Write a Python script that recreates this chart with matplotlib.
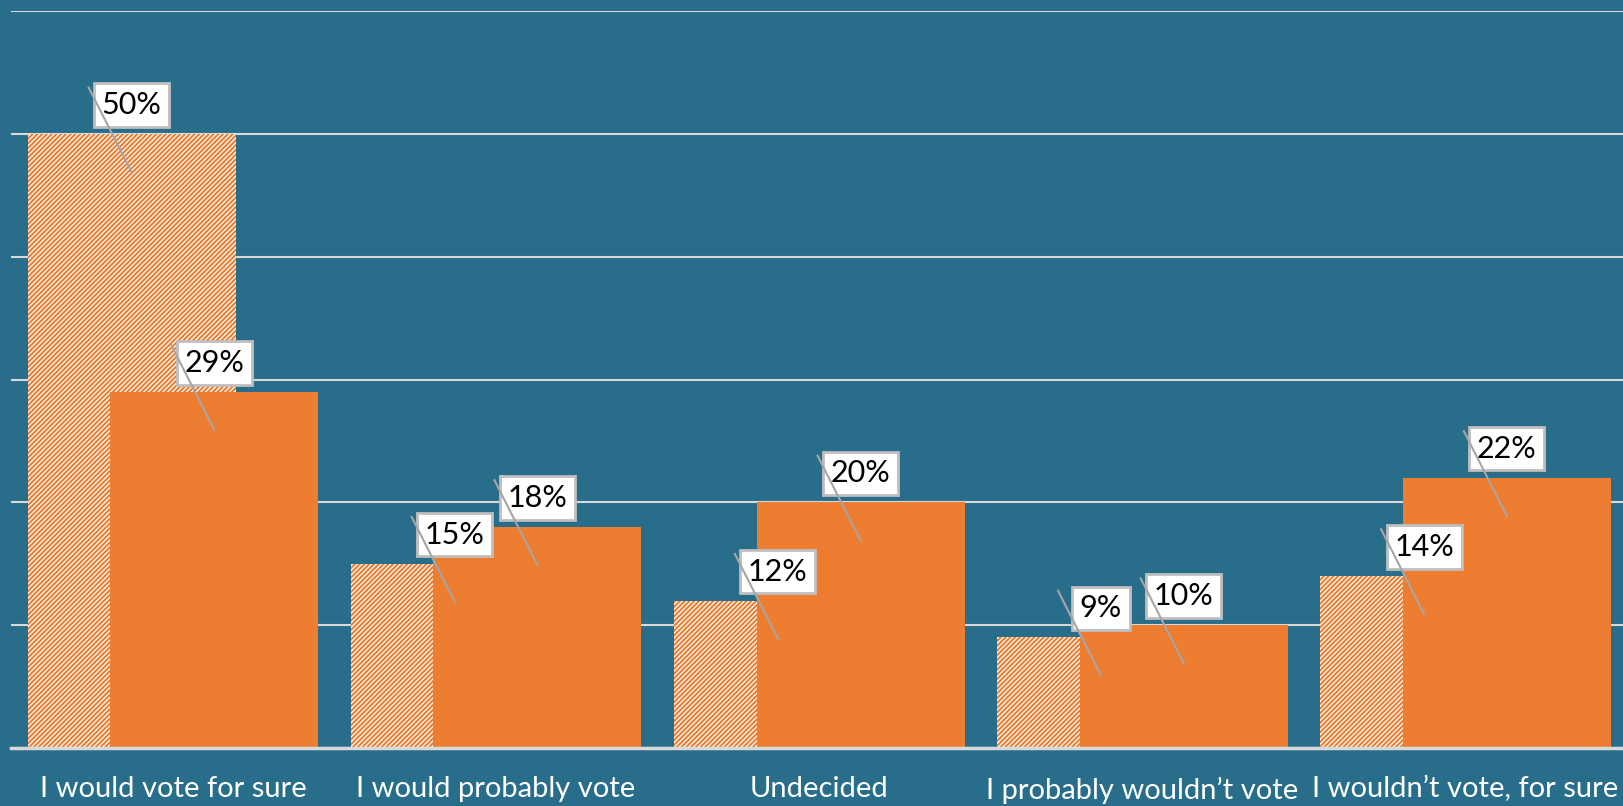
import numpy as np
import matplotlib; matplotlib.use("Agg"); import matplotlib.pyplot as plt

categories = ["I would vote for sure", "I would probably vote", "Undecided",
              "I probably wouldn\u2019t vote", "I wouldn\u2019t vote, for sure"]
hatched_vals = [50, 15, 12, 9, 14]
orange_vals = [29, 18, 20, 10, 22]

BG = "#286E8A"; OR = "#ED7D31"; GRID = "#D9D9D9"; LEAD = "#A6A6A6"
plt.rcParams["font.family"] = ["Lato", "DejaVu Sans"]
plt.rcParams["hatch.linewidth"] = 1.5

fig = plt.figure(figsize=(16.24, 8.06), dpi=100, facecolor=BG)
ax = fig.add_axes([11.4/1624, 58.2/806, 1615.6/1624, 736.4/806], facecolor=BG)
x = np.arange(len(categories)); w = 0.644; off = 0.128

ax.bar(x-off, hatched_vals, w, color="white", edgecolor=OR, hatch="///////", linewidth=0, zorder=2)
ax.bar(x+off, orange_vals, w, color=OR, linewidth=0, zorder=3)

ax.set_xlim(-0.5, 4.5); ax.set_ylim(0, 60)
ax.set_yticks(range(0, 61, 10)); ax.set_yticklabels([])
ax.grid(axis="y", color=GRID, lw=1.5, zorder=0); ax.set_axisbelow(True)
for s in ["top", "right", "left"]: ax.spines[s].set_visible(False)
ax.spines["bottom"].set_color(GRID); ax.spines["bottom"].set_linewidth(2.5); ax.spines["bottom"].set_zorder(5)
ax.tick_params(left=False, bottom=False, pad=17)
ax.set_xticks(x); ax.set_xticklabels(categories, color="white", fontsize=21)

# data labels: box above bar, grey leader line from upper-left into bar
for xs, vals in [(x-off, hatched_vals), (x+off, orange_vals)]:
    for xi, v in zip(xs, vals):
        ax.annotate(f"{v}%", xy=(xi, v), xytext=(0, 15), textcoords="offset pixels",
                    ha="center", va="bottom", fontsize=22, color="black", zorder=6,
                    bbox=dict(boxstyle="square,pad=0.25", fc="white", ec="#BFBFBF", lw=2))
        ax.plot([xi-0.133, xi], [v+3.8, v-3.1], color=LEAD, lw=1.5, zorder=7, clip_on=False)

fig.savefig("out.png", dpi=100, facecolor=BG)
